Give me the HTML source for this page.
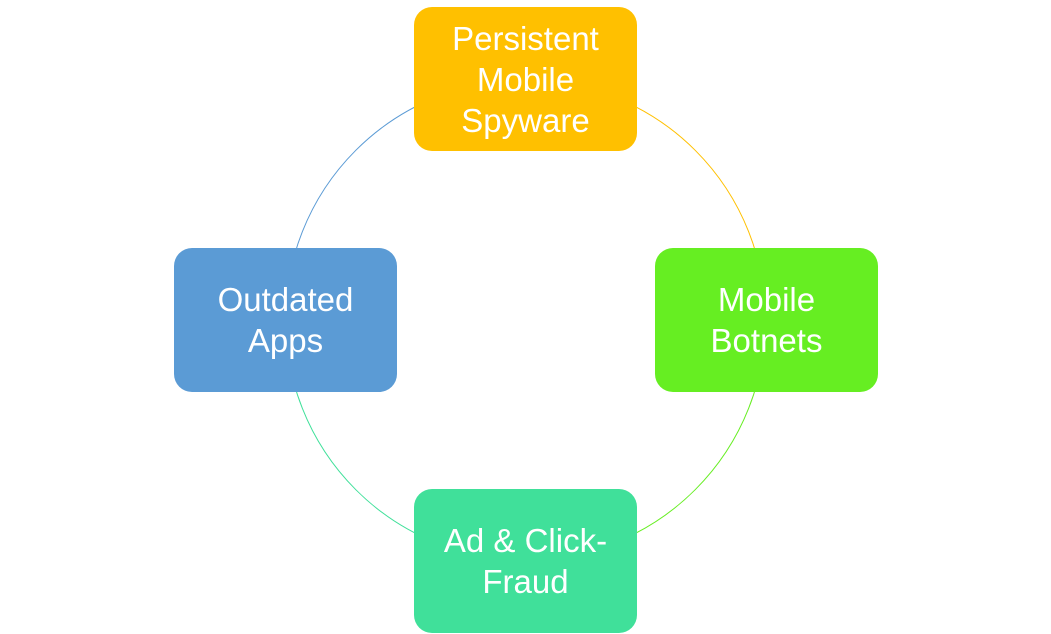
<!DOCTYPE html>
<html><head><meta charset="utf-8"><style>
html,body{margin:0;padding:0;background:#fff;width:1051px;height:634px;overflow:hidden}
.b{position:absolute;width:223px;height:144px;border-radius:18px;display:flex;align-items:center;justify-content:center;text-align:center;color:#fff;font-family:"Liberation Sans",sans-serif;font-size:33px;line-height:41px}
</style></head><body>
<svg width="1051" height="634" style="position:absolute;left:0;top:0">
<g fill="none" stroke-width="1">
<path d="M525.5 80 A240 240 0 0 1 765.5 320" stroke="#FFC000"/>
<path d="M765.5 320 A240 240 0 0 1 525.5 560" stroke="#66EE22"/>
<path d="M525.5 560 A240 240 0 0 1 285.5 320" stroke="#40E09A"/>
<path d="M285.5 320 A240 240 0 0 1 525.5 80" stroke="#5B9BD5"/>
</g></svg>
<div class="b" style="left:414px;top:7px;background:#FFC000">Persistent<br>Mobile<br>Spyware</div>
<div class="b" style="left:655px;top:248px;background:#66EE22">Mobile<br>Botnets</div>
<div class="b" style="left:414px;top:489px;background:#40E09A">Ad &amp; Click-<br>Fraud</div>
<div class="b" style="left:174px;top:248px;background:#5B9BD5">Outdated<br>Apps</div>
</body></html>
